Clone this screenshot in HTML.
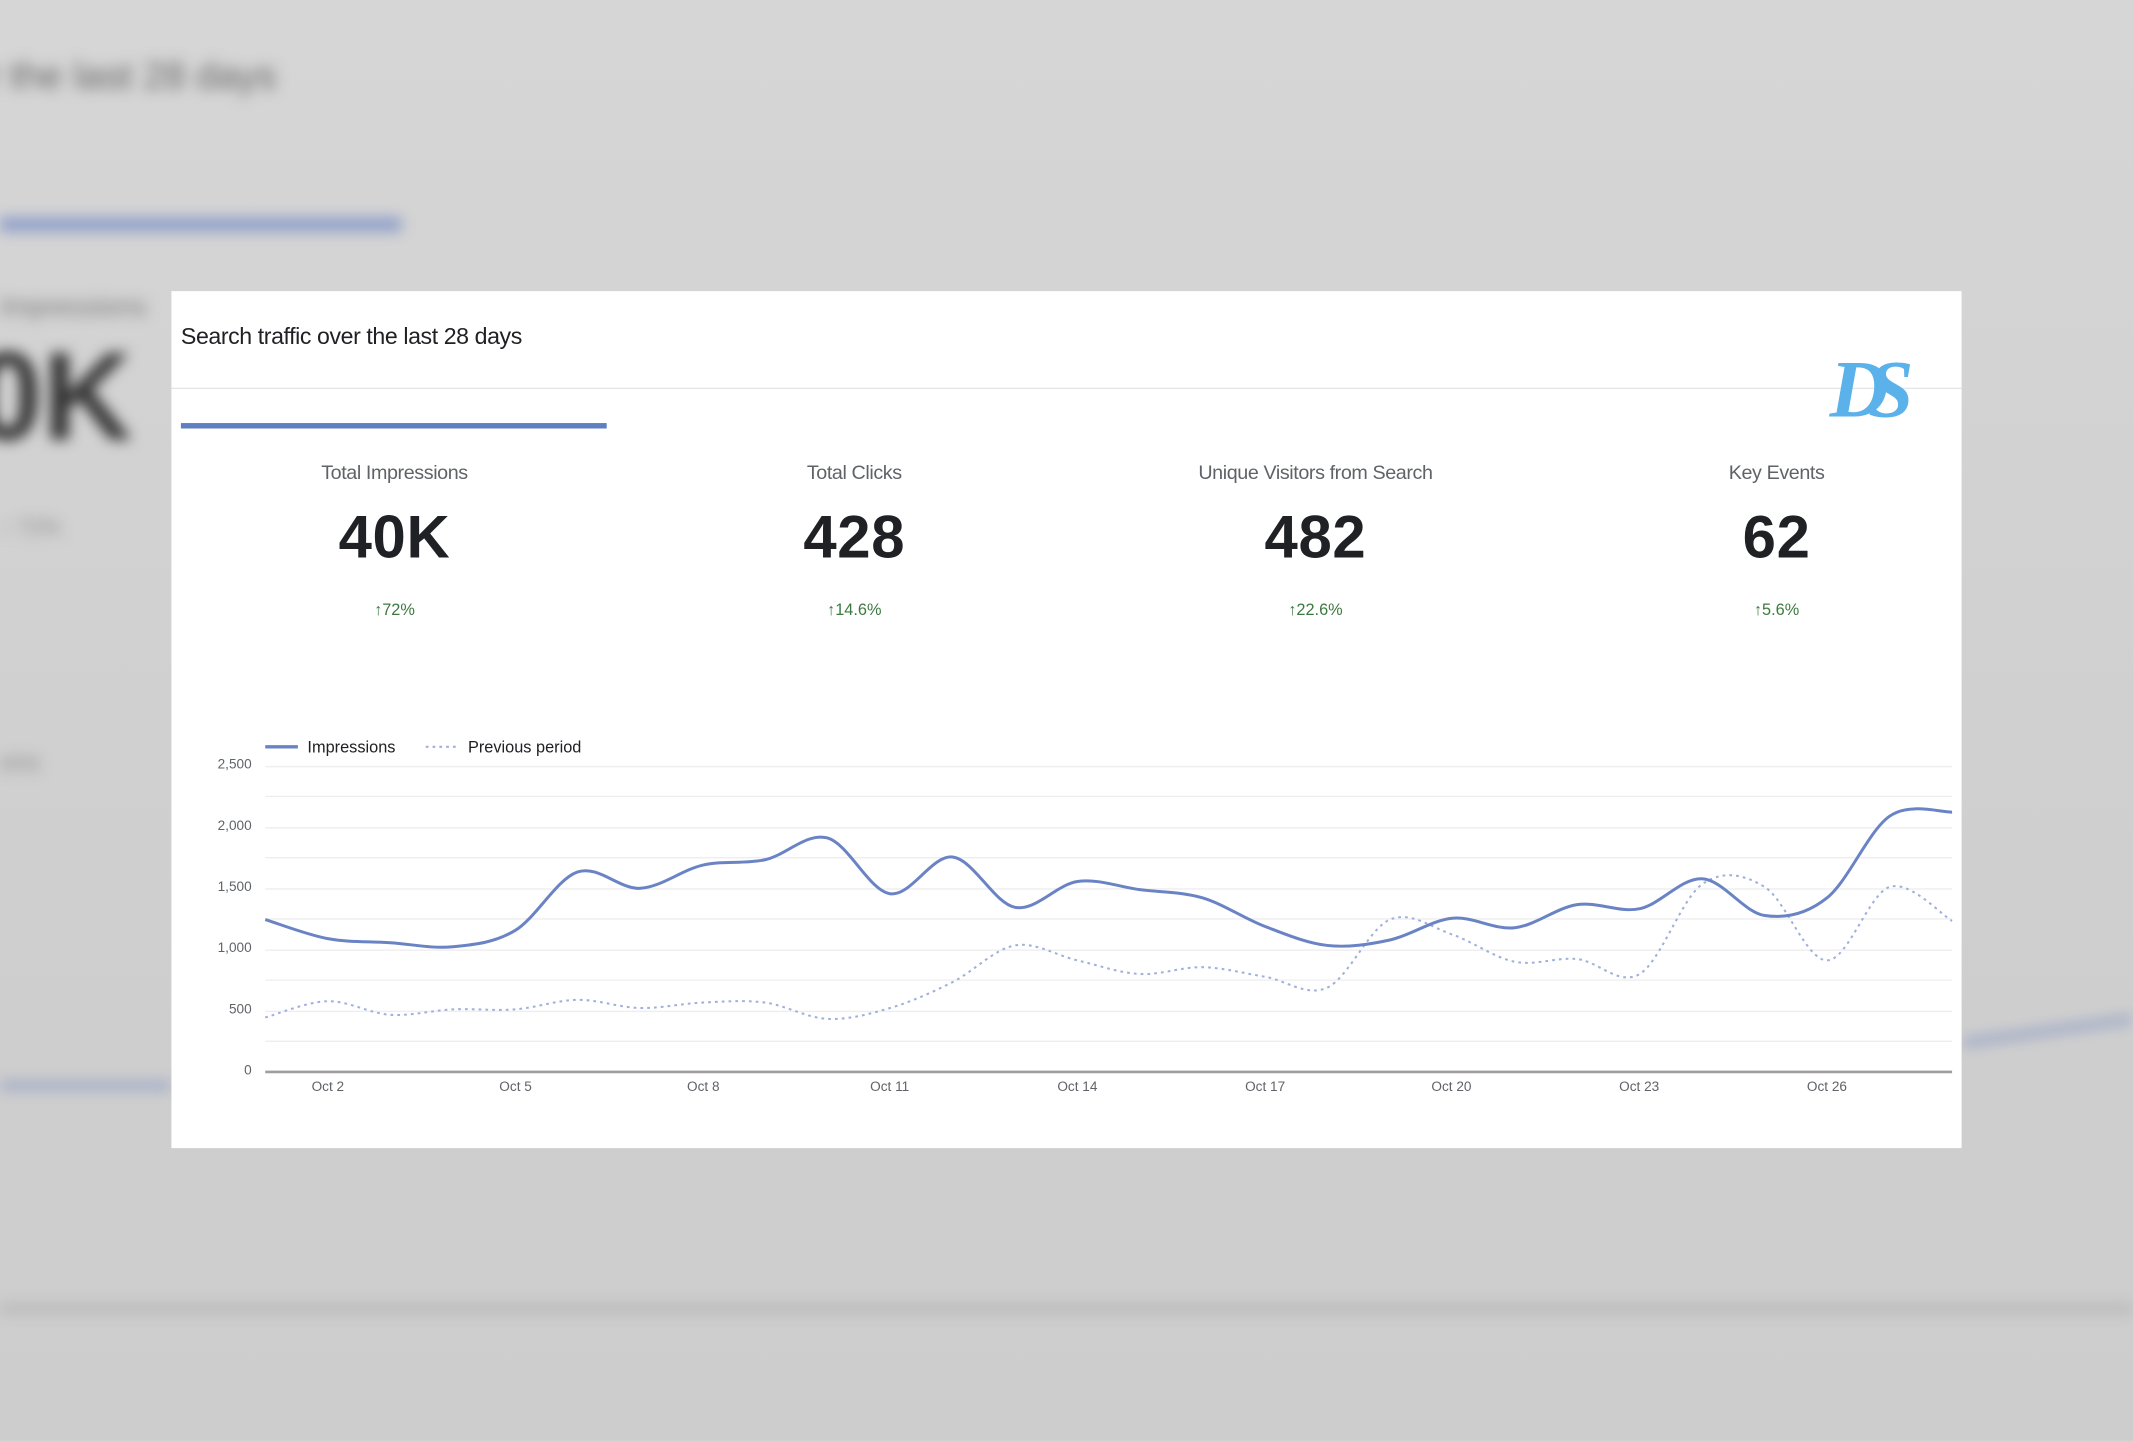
<!DOCTYPE html>
<html><head><meta charset="utf-8">
<style>
html,body{margin:0;padding:0;width:2133px;height:1440px;overflow:hidden;background:#d3d3d3;}
#wrap{position:absolute;left:0;top:0;width:1568px;height:1059px;transform:scale(1.36033);transform-origin:0 0;font-family:"Liberation Sans",sans-serif;}
.bg{position:absolute;inset:0;background:linear-gradient(180deg,#d6d6d6 0%,#cfcfcf 60%,#cdcdcd 100%);}
.blur{position:absolute;filter:blur(5px);color:#555;}
.card{position:absolute;left:126px;top:214px;width:1316px;height:630px;background:#fff;}
.t{position:absolute;white-space:nowrap;}
.m{position:absolute;width:300px;text-align:center;}
.lab{font-size:14.5px;color:#5f6368;top:340px;letter-spacing:-0.3px;}
.val{font-size:44px;color:#202124;top:371px;font-weight:bold;letter-spacing:0.5px;}
.chg{font-size:12px;color:#3b7a3f;top:441px;}
.yl{position:absolute;right:1383px;font-size:10px;color:#5f6368;text-align:right;}
.xl{position:absolute;font-size:10px;color:#5f6368;width:60px;text-align:center;top:794px;}
</style></head><body>
<div id="wrap">
<div class="bg"></div>
<div class="blur t" style="left:-10px;top:40px;font-size:28px;color:#666;">r the last 28 days</div>
<div class="blur" style="left:0;top:160px;width:295px;height:10px;background:#8a9bc8;"></div>
<div class="blur t" style="left:0;top:215px;font-size:20px;color:#777;">Impressions</div>
<div class="blur t" style="left:-20px;top:240px;font-size:92px;color:#333;font-weight:bold;">0K</div>
<div class="blur t" style="left:0;top:380px;font-size:16px;color:#888;">↑ 72%</div>
<div class="blur" style="left:0;top:795px;width:126px;height:6px;background:#9aa6c6;"></div>
<div class="blur" style="left:1442px;top:755px;width:126px;height:6px;background:#9aa6c6;transform:rotate(-8deg);"></div>
<div class="blur" style="left:0;top:960px;width:1568px;height:4px;background:#aaa;"></div>
<div class="blur t" style="left:0;top:550px;font-size:18px;color:#888;">ons</div>

<div class="card">
<div class="t" style="left:7px;top:24px;font-size:17px;color:#202124;letter-spacing:-0.3px;">Search traffic over the last 28 days</div>
<div style="position:absolute;left:0;top:71px;width:1316px;height:1px;background:#e3e6e8;"></div>
<div style="position:absolute;left:7px;top:97px;width:313px;height:4px;background:#5f7fc3;"></div>
<div class="t" style="left:1219px;top:38px;font-size:60px;font-weight:bold;font-style:italic;color:#5bb2ea;font-family:'Liberation Serif',serif;letter-spacing:-15px;">DS</div>
</div>

<div class="m lab" style="left:140px;">Total Impressions</div>
<div class="m lab" style="left:478px;">Total Clicks</div>
<div class="m lab" style="left:817px;">Unique Visitors from Search</div>
<div class="m lab" style="left:1156px;">Key Events</div>
<div class="m val" style="left:140px;">40K</div>
<div class="m val" style="left:478px;">428</div>
<div class="m val" style="left:817px;">482</div>
<div class="m val" style="left:1156px;">62</div>
<div class="m chg" style="left:140px;">↑72%</div>
<div class="m chg" style="left:478px;">↑14.6%</div>
<div class="m chg" style="left:817px;">↑22.6%</div>
<div class="m chg" style="left:1156px;">↑5.6%</div>

<div class="yl" style="top:557px;">2,500</div>
<div class="yl" style="top:602px;">2,000</div>
<div class="yl" style="top:647px;">1,500</div>
<div class="yl" style="top:692px;">1,000</div>
<div class="yl" style="top:737px;">500</div>
<div class="yl" style="top:782px;">0</div>
<div class="xl" style="left:211px;">Oct 2</div>
<div class="xl" style="left:349px;">Oct 5</div>
<div class="xl" style="left:487px;">Oct 8</div>
<div class="xl" style="left:624px;">Oct 11</div>
<div class="xl" style="left:762px;">Oct 14</div>
<div class="xl" style="left:900px;">Oct 17</div>
<div class="xl" style="left:1037px;">Oct 20</div>
<div class="xl" style="left:1175px;">Oct 23</div>
<div class="xl" style="left:1313px;">Oct 26</div>
<div class="t" style="left:226px;top:542px;font-size:12px;color:#202124;">Impressions</div>
<div class="t" style="left:344px;top:542px;font-size:12px;color:#202124;">Previous period</div>

<svg style="position:absolute;left:0;top:0" width="1568" height="1059">
<g stroke="#eeeeee" stroke-width="1">
<line x1="195" x2="1435" y1="563.5" y2="563.5"/><line x1="195" x2="1435" y1="585.5" y2="585.5"/>
<line x1="195" x2="1435" y1="608.5" y2="608.5"/><line x1="195" x2="1435" y1="630.5" y2="630.5"/>
<line x1="195" x2="1435" y1="653.5" y2="653.5"/><line x1="195" x2="1435" y1="675.5" y2="675.5"/>
<line x1="195" x2="1435" y1="698.5" y2="698.5"/><line x1="195" x2="1435" y1="720.5" y2="720.5"/>
<line x1="195" x2="1435" y1="743.5" y2="743.5"/><line x1="195" x2="1435" y1="765.5" y2="765.5"/>
</g>
<line x1="195" x2="1435" y1="788" y2="788" stroke="#9e9e9e" stroke-width="2"/>
<line x1="195" x2="219" y1="549" y2="549" stroke="#6a83c4" stroke-width="2.5"/>
<line x1="313" x2="335" y1="549" y2="549" stroke="#9fb0dc" stroke-width="1.5" stroke-dasharray="2,3"/>
<path id="prev" fill="none" stroke="#9fb0dc" stroke-width="1.5" stroke-dasharray="2,3"/>
<path id="imp" fill="none" stroke="#6a83c4" stroke-width="2.2"/>
</svg>
</div>
<script>
function cr(ys){var p=ys.map(function(y,i){return [195+i*1240/27,y]});var d="M"+p[0][0]+","+p[0][1];
for(var i=0;i<p.length-1;i++){var p0=p[i-1]||p[i],p1=p[i],p2=p[i+1],p3=p[i+2]||p2;
var c1=[p1[0]+(p2[0]-p0[0])/6,p1[1]+(p2[1]-p0[1])/6],c2=[p2[0]-(p3[0]-p1[0])/6,p2[1]-(p3[1]-p1[1])/6];
d+=" C"+c1[0].toFixed(1)+","+c1[1].toFixed(1)+" "+c2[0].toFixed(1)+","+c2[1].toFixed(1)+" "+p2[0].toFixed(1)+","+p2[1];}return d;}
document.getElementById("imp").setAttribute("d",cr([676,690,693,696,684,641,653,636,632,616,657,630,667,648,654,660,681,695,691,675,682,665,668,646,673,660,600,597]));
document.getElementById("prev").setAttribute("d",cr([748,736,746,742,742,735,741,737,737,749,741,722,695,706,716,711,718,726,676,687,707,705,716,650,652,706,652,677]));
</script>
</body></html>
